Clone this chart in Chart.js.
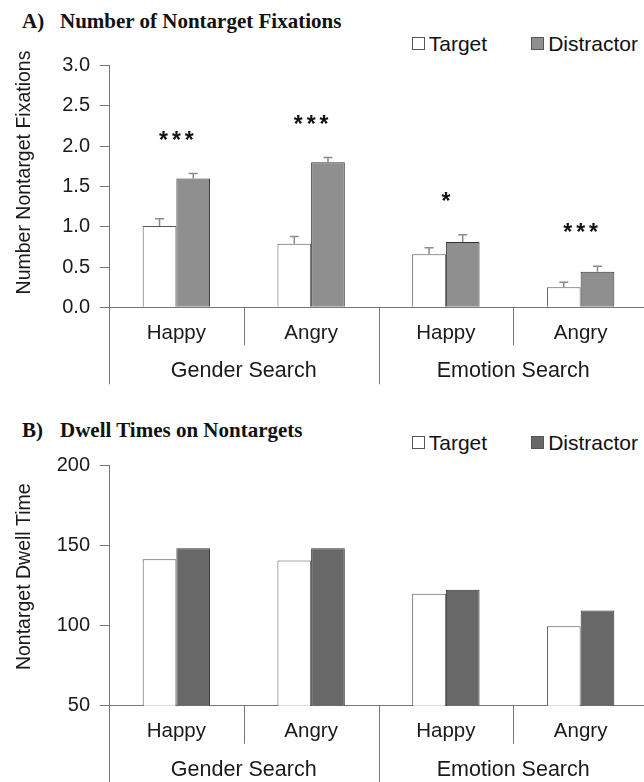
<!DOCTYPE html>
<html><head><meta charset="utf-8">
<script src="https://cdn.jsdelivr.net/npm/chart.js@4.4.0/dist/chart.umd.min.js"></script>
<style>
html,body{margin:0;padding:0;background:#fff;overflow:hidden;}
#wrap{position:relative;width:644px;height:782px;overflow:hidden;background:#fff;}
canvas{position:absolute;left:0;}
.ttl{position:absolute;left:22px;font:bold 21px "Liberation Serif","Times New Roman",serif;color:#111;white-space:nowrap;line-height:24px;}
.ttl .lab{display:inline-block;width:38px;}
.leg{position:absolute;right:6px;font:21px "Liberation Sans",Arial,sans-serif;color:#111;white-space:nowrap;line-height:24px;}
.leg .sw{display:inline-block;width:11px;height:11px;border:1px solid #555;margin-right:4px;vertical-align:middle;position:relative;top:-2px;}
.leg .it{display:inline-block;width:44px;}
</style></head>
<body>
<div id="wrap">
  <div class="ttl" style="top:9px"><span class="lab">A)</span>Number of Nontarget Fixations</div>
  <div class="leg" style="top:32px"><span class="sw" style="background:#fff"></span>Target<span class="it"></span><span class="sw" style="background:#8f8f8f"></span>Distractor</div>
  <canvas id="c1" width="648" height="400" style="top:0"></canvas>
  <div class="ttl" style="top:418px"><span class="lab">B)</span>Dwell Times on Nontargets</div>
  <div class="leg" style="top:431px"><span class="sw" style="background:#fff"></span>Target<span class="it"></span><span class="sw" style="background:#686868"></span>Distractor</div>
  <canvas id="c2" width="648" height="382" style="top:400px"></canvas>
</div>
<script>
// ---- data ----
const categories = ['Happy', 'Angry', 'Happy', 'Angry'];
const groups = ['Gender Search', 'Emotion Search'];
const seriesNames = ['Target', 'Distractor'];

const fixTarget = [1.01, 0.79, 0.66, 0.25];
const fixDistractor = [1.60, 1.80, 0.81, 0.44];
const fixTargetErr = [0.09, 0.09, 0.08, 0.06];
const fixDistractorErr = [0.06, 0.06, 0.09, 0.07];
const fixSig = ['***', '***', '*', '***'];
const fixAxisTitle = 'Number Nontarget Fixations';

const dwellTarget = [141.5, 140.8, 120.0, 99.6];
const dwellDistractor = [148.4, 148.4, 122.5, 109.5];
const dwellAxisTitle = 'Nontarget Dwell Time';

// ---- helpers ----
const FONT = '"Liberation Sans", Arial, sans-serif';
const TXT = '#1a1a1a';
const LINE = '#777';

const xDeco = {
  id: 'xDeco',
  afterDraw(chart, args, o) {
    const {ctx, chartArea: ca, scales: {x}} = chart;
    const n = categories.length;
    const cw = x.getPixelForValue(1) - x.getPixelForValue(0);
    const y0 = ca.bottom;
    ctx.save();
    ctx.strokeStyle = LINE; ctx.lineWidth = 1;
    for (let i = 0; i <= n; i++) {
      const px = Math.round(x.getPixelForValue(0) - cw / 2 + i * cw) + 0.5;
      const len = (i % 2 === 0) ? o.longLen : o.shortLen;
      ctx.beginPath(); ctx.moveTo(px, y0); ctx.lineTo(px, y0 + len); ctx.stroke();
    }
    ctx.fillStyle = TXT;
    ctx.font = '20.5px ' + FONT;
    ctx.textAlign = 'center'; ctx.textBaseline = 'middle';
    categories.forEach((c, i) => ctx.fillText(c, x.getPixelForValue(i), y0 + o.catOff));
    ctx.font = '21.5px ' + FONT;
    groups.forEach((g, j) => {
      const cx = (x.getPixelForValue(2 * j) + x.getPixelForValue(2 * j + 1)) / 2;
      ctx.fillText(g, cx, y0 + o.grpOff);
    });
    // y-axis title
    ctx.save();
    ctx.translate(o.titleX, (ca.top + ca.bottom) / 2 + o.titleShift);
    ctx.rotate(-Math.PI / 2);
    ctx.font = '19.5px ' + FONT;
    ctx.fillText(o.title, 0, 0);
    ctx.restore();
    ctx.restore();
  }
};

const errBars = {
  id: 'errBars',
  afterDatasetsDraw(chart, args, o) {
    if (!o.errors) return;
    const {ctx, scales: {y}} = chart;
    ctx.save();
    ctx.strokeStyle = '#8a8a8a'; ctx.lineWidth = 1.5;
    const tops = [];
    chart.data.datasets.forEach((ds, di) => {
      const meta = chart.getDatasetMeta(di);
      meta.data.forEach((bar, i) => {
        const v = ds.data[i] + o.errors[di][i];
        const yt = y.getPixelForValue(v);
        tops[i] = Math.min(tops[i] ?? Infinity, yt);
        ctx.beginPath();
        ctx.moveTo(bar.x, bar.y); ctx.lineTo(bar.x, yt);
        ctx.moveTo(bar.x - 4.5, yt); ctx.lineTo(bar.x + 4.5, yt);
        ctx.stroke();
      });
    });
    // significance stars
    const x = chart.scales.x;
    ctx.fillStyle = '#111';
    ctx.font = 'bold 23px ' + FONT;
    ctx.textAlign = 'center'; ctx.textBaseline = 'alphabetic';
    ctx.letterSpacing = '4px';
    o.sig.forEach((s, i) => {
      ctx.fillText(s, x.getPixelForValue(i) + 2, tops[i] - o.sigGap + 13);
    });
    ctx.restore();
  }
};

function makeChart(id, tgt, dis, disColor, yMin, yMax, step, dec, title, titleShift, extra, padBottom, longLen) {
  return new Chart(document.getElementById(id), {
    type: 'bar',
    data: {
      labels: categories,
      datasets: [
        {label: seriesNames[0], data: tgt, backgroundColor: '#ffffff', borderColor: '#555', borderWidth: 1,
         categoryPercentage: 0.5, barPercentage: 1.0},
        {label: seriesNames[1], data: dis, backgroundColor: disColor, borderColor: '#333', borderWidth: 1,
         categoryPercentage: 0.5, barPercentage: 1.0}
      ]
    },
    options: {
      responsive: false, animation: false, devicePixelRatio: 1,
      layout: {padding: {top: 65.7, bottom: padBottom, left: 0, right: 0}},
      plugins: {
        legend: {display: false}, tooltip: {enabled: false},
        xDeco: {longLen: longLen, shortLen: 38, catOff: 26, grpOff: 64, title: title, titleX: 25, titleShift: titleShift},
        errBars: extra
      },
      scales: {
        x: {
          grid: {display: false},
          border: {display: true, color: LINE, width: 1},
          ticks: {display: false},
          afterFit: s => { s.height = 0; }
        },
        y: {
          min: yMin, max: yMax,
          ticks: {stepSize: step, color: TXT, font: {size: 20, family: FONT}, padding: 10,
                  callback: v => Number(v).toFixed(dec)},
          grid: {display: true, drawOnChartArea: false, drawTicks: true, tickLength: 9, color: LINE},
          border: {display: true, color: LINE, width: 1},
          afterFit: s => { s.width = 109; }
        }
      }
    },
    plugins: [xDeco, errBars]
  });
}

makeChart('c1', fixTarget, fixDistractor, '#8f8f8f', 0, 3, 0.5, 1, fixAxisTitle, -14,
  {errors: [fixTargetErr, fixDistractorErr], sig: fixSig, sigGap: 39}, 400 - 307.3, 77);
makeChart('c2', dwellTarget, dwellDistractor, '#686868', 50, 200, 50, 0, dwellAxisTitle, -9,
  {}, 382 - 305.7, 80);
</script>
</body></html>
